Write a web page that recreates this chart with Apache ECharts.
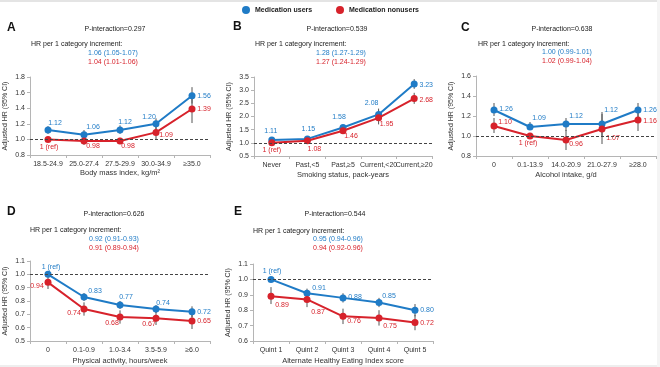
<!DOCTYPE html>
<html><head><meta charset="utf-8">
<script src="https://cdn.jsdelivr.net/npm/echarts@6/dist/echarts.min.js"></script>
<style>html,body{margin:0;padding:0;background:#fff}#c{width:660px;height:367px}</style>
</head><body><div id="c"></div>
<script>
// ---- data ----
const catA = ['18.5-24.9','25.0-27.4','27.5-29.9','30.0-34.9','\u226535.0'];
const usersA = [1.12,1.06,1.12,1.20,1.56];
const usersLoA = [1.07,1.01,1.07,1.13,1.46];
const usersHiA = [1.17,1.12,1.18,1.27,1.67];
const nonA = [1.00,0.98,0.98,1.09,1.39];
const nonLoA = [null,0.93,0.94,1.00,1.21];
const nonHiA = [null,1.03,1.02,1.18,1.57];

const catB = ['Never','Past,<5','Past,\u22655','Current,<20','Current,\u226520'];
const usersB = [1.11,1.15,1.58,2.08,3.23];
const usersLoB = [1.06,1.09,1.50,1.88,3.05];
const usersHiB = [1.16,1.21,1.66,2.30,3.42];
const nonB = [1.00,1.08,1.46,1.95,2.68];
const nonLoB = [null,1.02,1.38,1.70,2.48];
const nonHiB = [null,1.14,1.54,2.22,2.90];

const catC = ['0','0.1-13.9','14.0-20.9','21.0-27.9','\u226528.0'];
const usersC = [1.26,1.09,1.12,1.12,1.26];
const usersLoC = [1.20,1.06,1.05,1.00,1.19];
const usersHiC = [1.33,1.14,1.18,1.24,1.33];
const nonC = [1.10,1.00,0.96,1.07,1.16];
const nonLoC = [1.03,null,0.86,0.92,1.05];
const nonHiC = [1.18,null,1.06,1.22,1.28];

const catD = ['0','0.1-0.9','1.0-3.4','3.5-5.9','\u22656.0'];
const usersD = [1.00,0.83,0.77,0.74,0.72];
const usersLoD = [null,0.80,0.74,0.71,0.68];
const usersHiD = [null,0.86,0.80,0.77,0.76];
const nonD = [0.94,0.74,0.68,0.67,0.65];
const nonLoD = [0.89,0.69,0.63,0.62,0.59];
const nonHiD = [0.99,0.79,0.73,0.72,0.71];

const catE = ['Quint 1','Quint 2','Quint 3','Quint 4','Quint 5'];
const usersE = [1.00,0.91,0.88,0.85,0.80];
const usersLoE = [null,0.88,0.85,0.82,0.76];
const usersHiE = [null,0.94,0.91,0.88,0.84];
const nonE = [0.89,0.87,0.76,0.75,0.72];
const nonLoE = [0.84,0.82,0.71,0.70,0.67];
const nonHiE = [0.95,0.92,0.81,0.80,0.77];

const refUsers = [null,null,null,0,0];     // index of reference point per panel
const refNon = [0,0,1,null,null];

const pInter = ['0.297','0.539','0.638','0.626','0.544'];
const trendUsers = ['1.06 (1.05-1.07)','1.28 (1.27-1.29)','1.00 (0.99-1.01)','0.92 (0.91-0.93)','0.95 (0.94-0.96)'];
const trendNon = ['1.04 (1.01-1.06)','1.27 (1.24-1.29)','1.02 (0.99-1.04)','0.91 (0.89-0.94)','0.94 (0.92-0.96)'];
const xNames = ['Body mass index, kg/m\u00b2','Smoking status, pack-years','Alcohol intake, g/d','Physical activity, hours/week','Alternate Healthy Eating Index score'];
const letters = ['A','B','C','D','E'];
const yMin = [0.8,0.5,0.8,0.5,0.6];
const yMax = [1.8,3.5,1.6,1.1,1.1];
const yStep = [0.2,0.5,0.2,0.1,0.1];

// ---- layout / style ----
const BLUE = '#1f7bc6', RED = '#d7222b', GRAY = '#555555', FONT = 'Liberation Sans, Arial, sans-serif';
const FS = 7;
const grids = [
  {left:30, top:77, width:180, height:78},
  {left:254, top:77, width:178, height:79},
  {left:476, top:76, width:180, height:80},
  {left:30, top:261, width:180, height:80},
  {left:253, top:264, width:180, height:77}
];
const xNameGap = [13,15,15,16,16];
const offU = [
  [[7,-7],[9,-8],[5,-8],[-7,-7],[12,0]],
  [[-1,-9],[1,-10],[-4,-10],[-7,-11],[12,1]],
  [[12,-1],[9,-9],[10,-8],[9,-14],[12,0]],
  [[3,-7],[11,-6],[6,-8],[7,-6],[12,0]],
  [[1,-8],[12,-5],[12,-1],[10,-6],[12,0]]
];
const offN = [
  [[1,8],[9,5],[8,5],[10,3],[12,0]],
  [[0,7],[7,8],[8,5],[8,6],[12,1]],
  [[11,-4],[-2,7],[10,4],[11,9],[12,1]],
  [[-11,4],[-10,4],[-8,6],[-7,6],[12,0]],
  [[11,9],[11,13],[11,5],[11,8],[12,1]]
];
// title positions: [letterX, letterY, pX, pY, hrX, hrY, trendX, trendY1]
const tpos = [
  [7,29,115,29,31,44,113,53],
  [233,28,337,29,255,44,341,53],
  [461,29,562,29,478,44,567,52],
  [7,213,114,214,30,230,114,239],
  [234,213,335,214,253,231,338,239]
];

const cats = [catA,catB,catC,catD,catE];
const users = [usersA,usersB,usersC,usersD,usersE];
const usersLo = [usersLoA,usersLoB,usersLoC,usersLoD,usersLoE];
const usersHi = [usersHiA,usersHiB,usersHiC,usersHiD,usersHiE];
const non = [nonA,nonB,nonC,nonD,nonE];
const nonLo = [nonLoA,nonLoB,nonLoC,nonLoD,nonLoE];
const nonHi = [nonHiA,nonHiB,nonHiC,nonHiD,nonHiE];

const xAxis = [], yAxis = [], series = [], graphic = [];
function pointData(vals, offs, refIdx, color){
  return vals.map((v,i)=>({
    value: v,
    label: {show:true, position:'inside', offset: offs[i], color: color, fontSize: FS, fontFamily: FONT,
      formatter: i===refIdx ? '1 (ref)' : v.toFixed(2)}
  }));
}
function errData(lo, hi){
  const out = [];
  lo.forEach((l,i)=>{ if(l!==null) out.push([i,l,hi[i]]); });
  return out;
}
function errSeries(k, lo, hi){
  return {type:'custom', xAxisIndex:k, yAxisIndex:k, z:1, silent:true,
    data: errData(lo,hi), encode:{x:0,y:[1,2]},
    renderItem: function(params, api){
      const a = api.coord([api.value(0), api.value(1)]);
      const b = api.coord([api.value(0), api.value(2)]);
      return {type:'line', shape:{x1:a[0],y1:a[1],x2:b[0],y2:b[1]}, style:{stroke:GRAY, lineWidth:1}};
    }};
}
for(let k=0;k<5;k++){
  xAxis.push({type:'category', gridIndex:k, data:cats[k], boundaryGap:true,
    axisLine:{lineStyle:{color:'#b5b5b5', width:1}},
    axisTick:{show:true, length:3, lineStyle:{color:'#b5b5b5'}},
    axisLabel:{fontSize:FS, color:'#333', fontFamily:FONT, interval:0, margin:6},
    name:xNames[k], nameLocation:'middle', nameGap:xNameGap[k],
    nameTextStyle:{fontSize:FS+0.5, color:'#333', fontFamily:FONT}});
  yAxis.push({type:'value', gridIndex:k, min:yMin[k], max:yMax[k], interval:yStep[k],
    axisLine:{show:true, lineStyle:{color:'#b5b5b5'}},
    axisTick:{show:true, length:3, lineStyle:{color:'#b5b5b5'}},
    splitLine:{show:false},
    axisLabel:{fontSize:FS, color:'#333', fontFamily:FONT, margin:5, formatter:v=>v.toFixed(1)},
    name:'Adjusted HR (95% CI)', nameLocation:'middle', nameGap:21,
    nameTextStyle:{fontSize:FS, color:'#333', fontFamily:FONT}});
  series.push(errSeries(k, usersLo[k], usersHi[k]));
  series.push(errSeries(k, nonLo[k], nonHi[k]));
  series.push({type:'line', name:'Medication users', xAxisIndex:k, yAxisIndex:k, z:3,
    data: pointData(users[k], offU[k], refUsers[k], BLUE),
    symbol:'circle', symbolSize:7, color:BLUE, lineStyle:{width:2, color:BLUE},
    itemStyle:{color:BLUE},
    markLine:{silent:true, symbol:'none', label:{show:false},
      lineStyle:{color:'#444', type:[3,2], width:1}, data:[{yAxis:1}]}
  });
  series.push({type:'line', name:'Medication nonusers', xAxisIndex:k, yAxisIndex:k, z:4,
    data: pointData(non[k], offN[k], refNon[k], RED),
    symbol:'circle', symbolSize:7, color:RED, lineStyle:{width:2, color:RED},
    itemStyle:{color:RED}});
  const t = tpos[k];
  graphic.push({type:'text', left:t[0], top:t[1]-7, style:{text:letters[k], font:'bold 12px '+FONT, fill:'#111'}});
  graphic.push({type:'text', x:t[2], y:t[3], style:{text:'P-interaction='+pInter[k], font:FS+'px '+FONT, fill:'#222', textAlign:'center', textVerticalAlign:'middle'}});
  graphic.push({type:'text', x:t[4], y:t[5], style:{text:'HR per 1 category increment:', font:FS+'px '+FONT, fill:'#222', textAlign:'left', textVerticalAlign:'middle'}});
  graphic.push({type:'text', x:t[6], y:t[7], style:{text:trendUsers[k], font:FS+'px '+FONT, fill:BLUE, textAlign:'center', textVerticalAlign:'middle'}});
  graphic.push({type:'text', x:t[6], y:t[7]+9, style:{text:trendNon[k], font:FS+'px '+FONT, fill:RED, textAlign:'center', textVerticalAlign:'middle'}});
}
graphic.push({type:'rect', shape:{x:0,y:0,width:660,height:2}, style:{fill:'#e4e4e4'}, z:-1});
graphic.push({type:'rect', shape:{x:0,y:365,width:660,height:2}, style:{fill:'#eeeeee'}, z:-1});
graphic.push({type:'rect', shape:{x:657,y:0,width:3,height:367}, style:{fill:'#f4f4f4'}, z:-1});

const legendBase = {top:1, itemWidth:8, itemHeight:8, icon:'circle', itemGap:5,
  textStyle:{fontSize:7, fontWeight:'bold', color:'#222', fontFamily:FONT}, selectedMode:false};
const option = {
  animation:false,
  textStyle:{fontFamily:FONT},
  legend:[Object.assign({left:237, data:['Medication users']}, legendBase),
          Object.assign({left:331, data:['Medication nonusers']}, legendBase)],
  grid: grids,
  xAxis: xAxis, yAxis: yAxis, series: series, graphic: graphic
};
const chart = echarts.init(document.getElementById('c'), null, {renderer:'canvas'});
chart.setOption(option);
</script></body></html>
